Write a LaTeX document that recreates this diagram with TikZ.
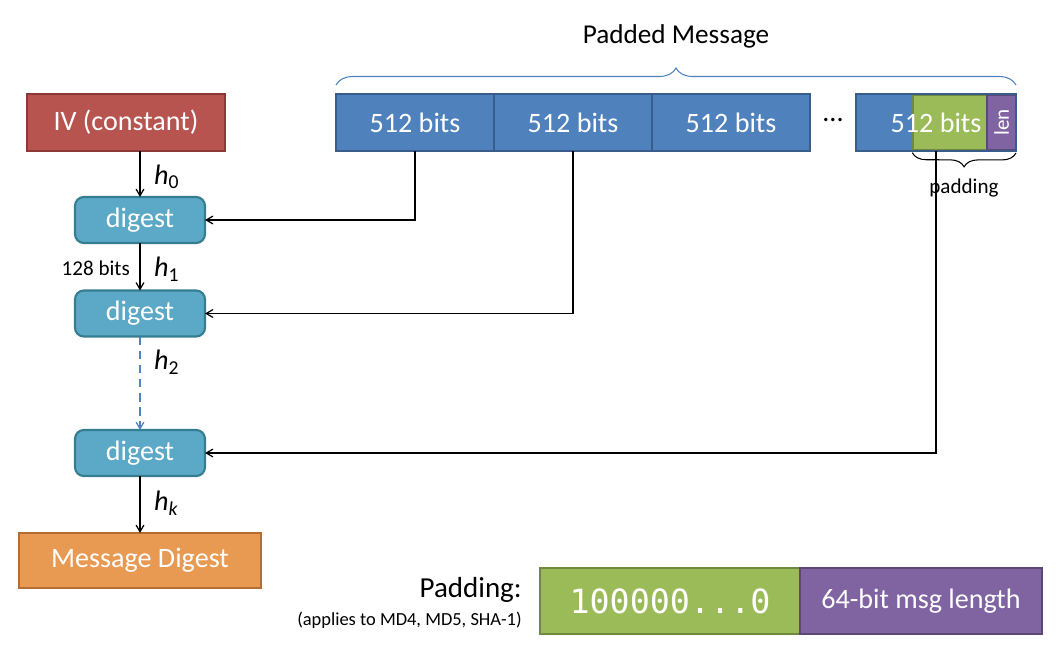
\documentclass[tikz,border=0pt]{standalone}
\usepackage{fontspec}
\setmainfont{Carlito}
\newfontfamily\monofont{DejaVu Sans Mono}
\usepackage{tikz}
\usetikzlibrary{calc,shapes,arrows,decorations.pathreplacing}
\definecolor{ivred}{HTML}{B85450}
\definecolor{ivline}{HTML}{8C3836}
\definecolor{msgblue}{HTML}{4F81BD}
\definecolor{msgline}{HTML}{385D8A}
\definecolor{digblue}{HTML}{5BA9C6}
\definecolor{digline}{HTML}{357D91}
\definecolor{padgreen}{HTML}{9BBB59}
\definecolor{padline}{HTML}{71893F}
\definecolor{lenpurple}{HTML}{8064A2}
\definecolor{lenline}{HTML}{5C4776}
\definecolor{mdorange}{HTML}{E99A52}
\definecolor{mdline}{HTML}{B66D31}
\tikzset{
   big/.style={font=\fontsize{16}{19}\selectfont},
   small/.style={font=\fontsize{12}{14}\selectfont}
}
\begin{document}
\begin{tikzpicture}[x=0.02cm,y=-0.02cm,
                    >=angle 60,
                    box/.style={draw,line width=1.2pt,text=white,big,inner sep=0pt,outer sep=0pt},
                    block/.style={box,fill=msgblue,draw=msgline,minimum width=3.16cm,minimum height=1.14cm},
                    digest/.style={box,rounded corners=5pt,fill=digblue,draw=digline,minimum width=2.6cm,minimum height=0.92cm},
                    flow/.style={->,line width=0.7pt},
                    hlabel/.style={anchor=west,big}]
\useasboundingbox (0,0) rectangle (1062,660);
%
\begin{scope}
\node[box,fill=ivred,draw=ivline,minimum width=3.96cm,minimum height=1.14cm] (iv) at (126,122.5) {IV (constant)};
\node[digest] (d1) at (140,220)   {digest};
\node[digest] (d2) at (140,313.5) {digest};
\node[digest] (d3) at (140,453)   {digest};
\node[box,fill=mdorange,draw=mdline,minimum width=4.84cm,minimum height=1.1cm] (md) at (140,560.5) {Message Digest};
%
\draw[flow] (iv.south -| d1.north) -- (d1.north);
\draw[flow] (d1) -- (d2);
\draw[flow,dashed,dash pattern=on 5pt off 3pt,msgblue] (d2) -- (d3);
\draw[flow] (d3) -- (md);
%
\node[hlabel] (h0) at (148,177) {\textit{h}\textsubscript{0}};
\node[hlabel] (h1) at (148,269) {\textit{h}\textsubscript{1}};
\node[hlabel] (h2) at (148,362) {\textit{h}\textsubscript{2}};
\node[hlabel] (hk) at (148,503) {\textit{h}\textsubscript{\textit{k}}};
\node[anchor=east,small] (w) at (136,268) {128 bits};
\end{scope}
%
\begin{scope}
\node[block] (b1) at (415,122.5)             {512 bits};
\node[block] (b2) at ($ (b1) + (158,0) $)    {512 bits};
\node[block] (b3) at ($ (b2) + (158,0) $)    {512 bits};
\node[big]   (dots) at (833,120)             {...};
\node[block,minimum width=3.2cm] (b4) at (936,122.5) {};
\node[fill=padgreen,draw=padline,line width=0.8pt,minimum width=1.48cm,minimum height=1.1cm,inner sep=0pt] (pad) at (950,122.5) {};
\node[fill=lenpurple,draw=lenline,line width=0.8pt,minimum width=0.58cm,minimum height=1.1cm,inner sep=0pt] (len) at (1001.5,122.5) {};
\node[small,text=white,rotate=90] (lentxt) at (len) {len};
\node[big,text=white] (b4txt) at (b4) {512 bits};
\draw[msgline,line width=1.2pt] (b4.north west) rectangle (b4.south east);
%
\draw[decorate,decoration={brace,amplitude=0.34cm},msgblue,line width=0.6pt]
  ($ (b1.north west) + (0,-9) $) -- ($ (b4.north east) + (0,-9) $);
\node[font=\fontsize{15.5}{18}\selectfont] (title) at (676,36) {Padded Message};
\draw[decorate,decoration={brace,amplitude=0.28cm},line width=0.6pt]
  ($ (b4.south east) + (0,2) $) -- ($ (pad.south west) + (0,2) $);
\node[small] (padlbl) at (964,188) {padding};
%
\draw[flow] (b1.south) |- (d1.east);
\draw[flow] (b2.south) |- (d2.east);
\draw[flow] (b4.south) |- (d3.east);
\end{scope}
%
\node[anchor=east,inner sep=0pt,font=\fontsize{16.5}{19}\selectfont] (padtxt) at (522,590) {Padding:};
\node[anchor=east,inner sep=0pt,font=\fontsize{10.5}{12}\selectfont] (padnote) at (522,620) {(applies to MD4, MD5, SHA-1)};
\node[box,fill=padgreen,draw=padline,minimum width=5.2cm,minimum height=1.32cm,font=\monofont\fontsize{19}{22}\selectfont] (pbits) at (670,601) {100000...0};
\node[box,fill=lenpurple,draw=lenline,minimum width=4.84cm,minimum height=1.32cm,anchor=west] (plen) at (pbits.east) {64-bit msg length};
\end{tikzpicture}
\end{document}
